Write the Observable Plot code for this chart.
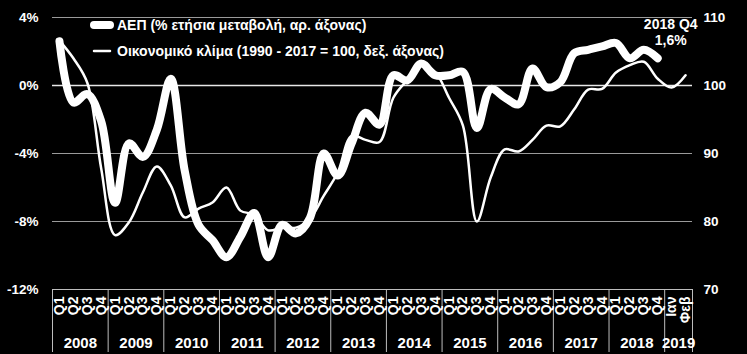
<!DOCTYPE html>
<html><head><meta charset="utf-8">
<script src="https://cdn.jsdelivr.net/npm/d3@7"></script>
<script src="https://cdn.jsdelivr.net/npm/@observablehq/plot@0.6"></script>
<style>
html,body{margin:0;padding:0;background:#000;}
#wrap{position:relative;width:747px;height:354px;background:#000;}
.leg{position:absolute;left:90px;height:16px;font:bold 14px "Liberation Sans",Arial,sans-serif;color:#fff;display:flex;align-items:center;white-space:nowrap;}
.leg svg{margin-right:3px;}
</style></head><body><div id="wrap"></div>
<script>
// ---- data ----
const quarterYears = ["2008","2009","2010","2011","2012","2013","2014","2015","2016","2017","2018"];
const quarterLabels = ["Q1","Q2","Q3","Q4"];
const monthYear = "2019";
const monthLabels = ["Ιαν","Φεβ"];
// ΑΕΠ, % ετήσια μεταβολή (2008 Q1 – 2018 Q4)
const gdp = [
  2.6, -1.0, -0.5, -2.1,
  -6.9, -3.4, -4.2, -2.6,
  0.4, -5.0, -8.2, -9.1,
  -10.1, -8.9, -7.5, -10.1,
  -8.2, -8.7, -7.8, -4.0,
  -5.3, -3.4, -1.6, -2.3,
  0.6, 0.3, 1.3, 0.6,
  0.6, 0.8, -2.5, -0.2,
  -0.7, -1.1, 1.0, -0.1,
  0.2, 1.9, 2.1, 2.3,
  2.5, 1.6, 2.1, 1.6
];
// Οικονομικό κλίμα (1990-2017 = 100), 2008 Q1 – 2018 Q4, Ιαν & Φεβ 2019
const climate = [
  106.6, 104.0, 100.4, 87.8,
  78.0, 79.9, 84.3, 88.1,
  85.3, 80.6, 81.9, 82.8,
  85.0, 81.6, 81.0, 78.7,
  79.1, 79.1, 80.4, 83.8,
  87.2, 92.6, 92.0, 91.7,
  98.2, 100.8, 103.0, 102.0,
  98.2, 94.1, 80.0, 86.5,
  90.6, 90.3, 92.0, 94.1,
  94.0, 96.5, 99.4, 99.5,
  101.9, 103.0, 103.5, 101.0,
  99.7, 101.5
];
const leftTicks = [-12, -8, -4, 0, 4];
const rightTicks = [70, 80, 90, 100, 110];
const legendLabels = ["ΑΕΠ (% ετήσια μεταβολή, αρ. άξονας)", "Οικονομικό κλίμα (1990 - 2017 = 100, δεξ. άξονας)"];
const annotation = "2018 Q4\n1,6%";

// ---- derived tables ----
const categories = quarterYears.flatMap(() => quarterLabels).concat(monthLabels);
const yearGroups = quarterYears.map(y => ({year: y, n: quarterLabels.length})).concat([{year: monthYear, n: monthLabels.length}]);
let acc = 0;
const bounds = [0];
const yearMid = [];
for (const g of yearGroups) { yearMid.push({x: acc + g.n / 2, year: g.year}); acc += g.n; bounds.push(acc); }
const toLeft = c => (c - 100) / 2.5; // right axis 70..110 ↔ left axis -12..4
const catData = categories.map((c, i) => ({x: i + 0.5, c}));
const gdpData = gdp.map((v, i) => ({x: i + 0.5, y: v}));
const climData = climate.map((v, i) => ({x: i + 0.5, y: toLeft(v)}));
const last = gdpData[gdpData.length - 1];

const font = '"Liberation Sans", Arial, sans-serif';
const chart = Plot.plot({
  width: 747, height: 354,
  marginLeft: 52, marginRight: 55, marginTop: 17, marginBottom: 65,
  style: {background: "#000", color: "#fff", fontFamily: font, fontWeight: "bold", fontSize: "13.5px", overflow: "visible"},
  x: {domain: [0, categories.length]},
  y: {domain: [leftTicks[0], leftTicks[leftTicks.length - 1]]},
  marks: [
    Plot.gridY(leftTicks, {stroke: "#9a9a9a", strokeOpacity: 1, strokeWidth: 1}),
    Plot.ruleY([0], {stroke: "#e8e8e8", strokeWidth: 1.5}),
    Plot.axisY(leftTicks, {anchor: "left", tickSize: 0, tickPadding: 14, tickFormat: d => d + "%", label: null, fontSize: 13.5}),
    Plot.axisY(rightTicks.map(toLeft), {anchor: "right", tickSize: 0, tickPadding: 11, tickFormat: d => String(Math.round(100 + d * 2.5)), label: null, fontSize: 13.5}),
    Plot.axisX(bounds, {anchor: "bottom", tickSize: 63, stroke: "#bdbdbd", tickFormat: () => "", label: null}),
    Plot.ruleY([leftTicks[0]], {stroke: "#bdbdbd"}),
    Plot.text(catData, {x: "x", text: "c", frameAnchor: "bottom", dy: 7, rotate: -90, textAnchor: "end", lineAnchor: "middle", fill: "#fff", fontSize: 14, fontWeight: "bold"}),
    Plot.text(yearMid, {x: "x", text: "year", frameAnchor: "bottom", dy: 54, lineAnchor: "middle", fill: "#fff", fontSize: 15, fontWeight: "bold"}),
    Plot.line(climData, {x: "x", y: "y", stroke: "#fff", strokeWidth: 2.5, curve: "catmull-rom"}),
    Plot.line(gdpData, {x: "x", y: "y", stroke: "#fff", strokeWidth: 8, curve: "catmull-rom"}),
    Plot.text([last], {x: "x", y: "y", text: () => annotation, dx: 13, dy: -13, lineAnchor: "bottom", lineHeight: 1.2, fill: "#fff", fontSize: 14, fontWeight: "bold"})
  ]
});
const wrap = document.getElementById("wrap");
wrap.appendChild(chart);
const widths = [8, 2.5];
const tops = [17, 43];
legendLabels.forEach((t, k) => {
  const d = document.createElement("div");
  d.className = "leg";
  d.style.top = tops[k] + "px";
  d.innerHTML = `<svg width="24" height="12"><line x1="4" y1="6" x2="20" y2="6" stroke="#fff" stroke-width="${widths[k]}" stroke-linecap="round"/></svg><span></span>`;
  d.querySelector("span").textContent = t;
  wrap.appendChild(d);
});
</script></body></html>
